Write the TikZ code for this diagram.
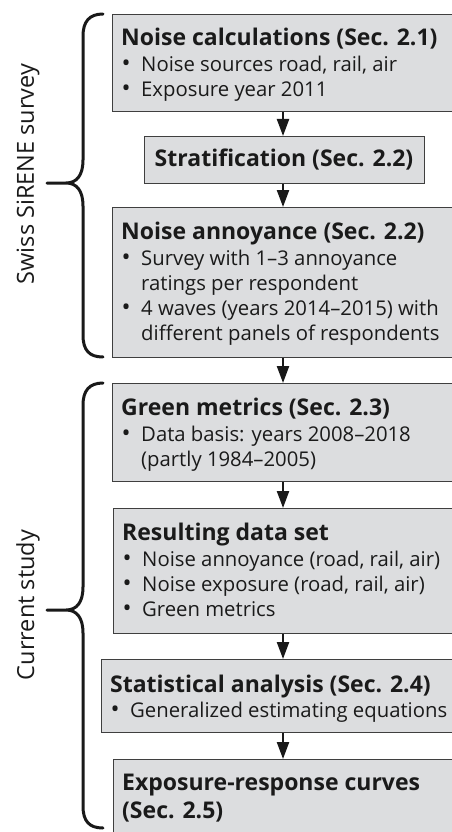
\documentclass[tikz,border=0pt]{standalone}
\usepackage{fontspec}
\setmainfont{Open Sans}
\usetikzlibrary{arrows.meta}
\definecolor{boxfill}{HTML}{DCDDDF}
\definecolor{boxline}{HTML}{3F3F3F}
\definecolor{txt}{HTML}{1A1A1A}
\newcommand\bl{\makebox[20pt][l]{\hspace{0.5pt}{\fontsize{24}{25}\selectfont•}}}
\newcommand\ind{\hspace*{20pt}}
\newcommand\ttl[1]{{\fontsize{23}{25}\selectfont\bfseries #1}}
\tikzset{
  stepbox/.style={draw=boxline, fill=boxfill, line width=1.3pt, rectangle, inner sep=0pt, anchor=north west},
  boxtext/.style={anchor=base west, inner sep=0pt, text=txt, font=\fontsize{20.3}{25}\selectfont},
  flow/.style={-{Triangle[length=17pt,width=12pt]}, line width=2.2pt, draw=black!90, fill=black!90},
  brace/.style={line width=3pt, line cap=round, line join=round, draw=black!90},
  side/.style={rotate=90, text=txt, inner sep=0pt, font=\fontsize{23.5}{24}\selectfont}
}
\begin{document}
\begin{tikzpicture}[x=1pt, y=-1pt]
\useasboundingbox (0,0) rectangle (452,832);
\clip (0,0) rectangle (452,832);
\fill[white] (0,0) rectangle (452,832);
% boxes
\node[stepbox, minimum width=400pt, minimum height=97pt]  (b1) at (112,14)  {};
\node[stepbox, minimum width=280pt, minimum height=47pt]  (b2) at (144,136) {};
\node[stepbox, minimum width=400pt, minimum height=150pt] (b3) at (112,207) {};
\node[stepbox, minimum width=400pt, minimum height=98pt]  (b4) at (112,383) {};
\node[stepbox, minimum width=400pt, minimum height=125pt] (b5) at (113,508) {};
\node[stepbox, minimum width=400pt, minimum height=73pt]  (b6) at (101,659) {};
\node[stepbox, minimum width=400pt, minimum height=120pt] (b7) at (113,759) {};
% arrows
\coordinate (ax) at (283,0);
\draw[flow] (b1.south -| ax) -- (b2.north -| ax);
\draw[flow] (b2.south -| ax) -- (b3.north -| ax);
\draw[flow] (b3.south -| ax) -- (b4.north -| ax);
\draw[flow] (b4.south -| ax) -- (b5.north -| ax);
\draw[flow] (b5.south -| ax) -- (b6.north -| ax);
\draw[flow] (b6.south -| ax) -- (b7.north -| ax);
% texts
\node[boxtext] (t1) at (121,46) {\begin{minipage}[t]{420pt}\raggedright\ttl{Noise calculations (Sec. 2.1)}\\[1pt]
\bl Noise sources road, rail, air\\
\bl Exposure year 2011\end{minipage}};
\node[inner sep=0pt, text=txt, font=\fontsize{23}{25}\selectfont\bfseries] (t2) at (284,160) {Stratification (Sec. 2.2)};
\node[boxtext] (t3) at (121,239) {\begin{minipage}[t]{420pt}\raggedright\ttl{Noise annoyance (Sec. 2.2)}\\[1pt]
\bl Survey with 1–3 annoyance\\
\ind ratings per respondent\\
\bl 4 waves (years 2014–2015) with\\
\ind different panels of respondents\end{minipage}};
\node[boxtext] (t4) at (121,415) {\begin{minipage}[t]{420pt}\raggedright\ttl{Green metrics (Sec. 2.3)}\\[1pt]
\bl Data basis: years 2008–2018\\
\ind (partly 1984–2005)\end{minipage}};
\node[boxtext] (t5) at (122,540) {\begin{minipage}[t]{420pt}\raggedright\ttl{Resulting data set}\\[1pt]
\bl Noise annoyance (road, rail, air)\\
\bl Noise exposure (road, rail, air)\\
\bl Green metrics\end{minipage}};
\node[boxtext] (t6) at (110,692) {\begin{minipage}[t]{420pt}\raggedright\ttl{Statistical analysis (Sec. 2.4)}\\[0pt]
\bl Generalized estimating equations\end{minipage}};
\node[boxtext] (t7) at (122,790) {\begin{minipage}[t]{420pt}\raggedright\ttl{Exposure-response curves}\\[3pt]
\ttl{(Sec. 2.5)}\end{minipage}};
% braces
\draw[brace] (103,14) .. controls (89,14) and (83,22) .. (83,36) -- (83,160)
  .. controls (83,175) and (77,183) .. (66,183) -- (47,183) -- (66,183)
  .. controls (77,183) and (83,191) .. (83,206) -- (83,335)
  .. controls (83,350) and (89,357) .. (103,357);
\draw[brace] (103,383) .. controls (89,383) and (83,391) .. (83,405) -- (83,587)
  .. controls (83,602) and (77,610) .. (66,610) -- (47,610) -- (66,610)
  .. controls (77,610) and (83,618) .. (83,633) -- (83,806)
  .. controls (83,821) and (89,828) .. (103,828);
% side labels
\node[side] (l1) at (28,174) {Swiss SiRENE survey};
\node[side] (l2) at (28,605) {Current study};
\end{tikzpicture}
\end{document}
